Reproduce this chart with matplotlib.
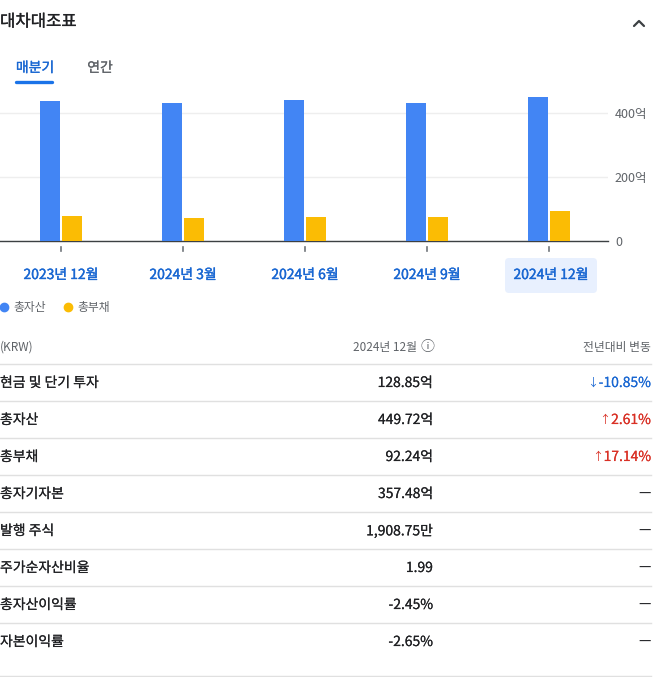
import matplotlib
matplotlib.use("Agg")
import matplotlib.pyplot as plt
from matplotlib.lines import Line2D
from matplotlib.patches import FancyBboxPatch
from matplotlib.text import Annotation
import matplotlib.patheffects as pe
import matplotlib.transforms as mtransforms

plt.rcParams['font.family'] = ['Noto Sans CJK KR', 'DejaVu Sans']

# ---- data ----
periods = ["2023년 12월", "2024년 3월", "2024년 6월", "2024년 9월", "2024년 12월"]
total_assets = [438.3, 431.5, 441.0, 431.5, 449.72]     # 억
total_liabilities = [78.75, 71.5, 75.0, 75.5, 92.24]    # 억
yticks = [0, 200, 400]
ytick_labels = ["0", "200억", "400억"]
series_names = ["총자산", "총부채"]

row_labels = ["현금 및 단기 투자", "총자산", "총부채", "총자기자본", "발행 주식",
              "주가순자산비율", "총자산이익률", "자본이익률"]
row_values = ["128.85억", "449.72억", "92.24억", "357.48억", "1,908.75만",
              "1.99", "-2.45%", "-2.65%"]
row_changes = ["↓-10.85%", "↑2.61%", "↑17.14%", "—", "—", "—", "—", "—"]

W, H = 662, 677
fig = plt.figure(figsize=(W / 100, H / 100), dpi=100)
fig.patch.set_facecolor("white")

def fx(px):
    return px / W

def fy(py):
    return 1 - py / H

def ft(px, py, s, stroke=0.0, **kw):
    kw.setdefault("va", "center")
    t = fig.text(fx(px), fy(py), s, **kw)
    if stroke > 0:
        t.set_path_effects([pe.withStroke(linewidth=stroke, foreground=kw.get("color", "black"))])
    return t

DARK = "#202124"
GRAY = "#5f6368"
BLUE = "#4285f4"
YELLOW = "#fbbc04"
LINKBLUE = "#1967d2"
RED = "#d93025"

# ---- header ----
ft(0, 22, "대차대조표", stroke=0.2, fontsize=12, color=DARK, ha="left")
fig.add_artist(Line2D([fx(634), fx(639), fx(644)], [fy(26), fy(21), fy(26)],
                      transform=fig.transFigure, color="#3c4043", lw=1.6,
                      solid_capstyle="round", solid_joinstyle="round"))
ft(35, 68, "매분기", stroke=0.25, fontsize=10, color=LINKBLUE, ha="center")
ft(100, 68, "연간", stroke=0.15, fontsize=10, color=GRAY, ha="center")
fig.add_artist(Line2D([fx(16), fx(52)], [fy(82), fy(82)], transform=fig.transFigure,
                      color="#1a73e8", lw=2.4, solid_capstyle="round"))

# ---- chart ----
ax_left, ax_right, ax_top, ax_bot = 0, 608, 90, 241
ax = fig.add_axes([fx(ax_left), fy(ax_bot), fx(ax_right - ax_left), (ax_bot - ax_top) / H])
px_per_unit = (241 - 113) / 400.0
ax.set_ylim(0, (ax_bot - ax_top) / px_per_unit)
group_w = 122.0
ax.set_xlim(-61 / group_w, (608 - 61) / group_w)

x = list(range(len(periods)))
bw = 20 / group_w
off = 11 / group_w
ax.bar([i - off for i in x], total_assets, width=bw, color=BLUE, zorder=3)
ax.bar([i + off for i in x], total_liabilities, width=bw, color=YELLOW, zorder=3)

for s in ["top", "left", "right"]:
    ax.spines[s].set_visible(False)
ax.spines["bottom"].set_color("#3c4043")
ax.spines["bottom"].set_linewidth(1.0)
ax.yaxis.tick_right()
ax.set_yticks(yticks)
ax.set_yticklabels(ytick_labels, fontsize=9, color=GRAY)
ax.tick_params(axis="y", length=0, pad=5)
for lab in ax.get_yticklabels():
    lab.set_ha("left")
ax.grid(axis="y", color="#eeeeee", lw=1, zorder=0)
ax.set_xticks([])
ax.set_facecolor("none")

# small tick marks under the baseline
trans = mtransforms.blended_transform_factory(ax.transData, ax.transAxes)
for i in x:
    ax.plot([i, i], [-(247 - 241) / 151, -(251 - 241) / 151], transform=trans,
            color="#70757a", lw=1.2, clip_on=False)

# category labels
for i, p in enumerate(periods):
    cx = 61 + group_w * i
    if i == len(periods) - 1:
        box = FancyBboxPatch((fx(505), fy(293)), fx(92), (293 - 258) / H,
                             boxstyle="round,pad=0,rounding_size=0.006",
                             transform=fig.transFigure, facecolor="#e8f0fe",
                             edgecolor="none")
        fig.add_artist(box)
        cx = 551
    ft(cx, 275, p, stroke=0.28, fontsize=10, color=LINKBLUE, ha="center")

# legend
fig.add_artist(Line2D([fx(4)], [fy(307)], marker="o", markersize=6, color=BLUE,
                      transform=fig.transFigure, lw=0))
ft(13, 307, series_names[0], fontsize=8.5, color=GRAY, ha="left")
fig.add_artist(Line2D([fx(68)], [fy(307)], marker="o", markersize=6, color=YELLOW,
                      transform=fig.transFigure, lw=0))
ft(77, 307, series_names[1], fontsize=8.5, color=GRAY, ha="left")

# ---- table ----
ft(0, 347, "(KRW)", fontsize=8.5, color=GRAY, ha="left")
ft(417, 347, "2024년 12월", fontsize=8.5, color=GRAY, ha="right")
ft(427, 347, "ⓘ", fontsize=10, color=GRAY, ha="center")
ft(651, 347, "전년대비 변동", fontsize=8.5, color=GRAY, ha="right")

line_ys = [364, 401, 438, 475, 512, 549, 586, 623]
for ly in line_ys:
    fig.add_artist(Line2D([0, fx(651)], [fy(ly), fy(ly)], transform=fig.transFigure,
                          color="#e0e0e0", lw=1))
fig.add_artist(Line2D([0, fx(651)], [fy(676), fy(676)], transform=fig.transFigure,
                      color="#e0e0e0", lw=1))

for k, (lab, val, chg) in enumerate(zip(row_labels, row_values, row_changes)):
    yy = 383 + 37 * k
    ft(0, yy, lab, stroke=0.12, fontsize=10, color=DARK, ha="left")
    ft(433, yy, val, stroke=0.12, fontsize=10, color=DARK, ha="right")
    if chg[0] in "↓↑":
        c = LINKBLUE if chg[0] == "↓" else RED
        t = ft(651, yy, chg[1:], stroke=0.1, fontsize=10, color=c, ha="right")
        arrow = Annotation(chg[0], xy=(0, 0.5), xycoords=t, xytext=(-0.5, 0),
                           textcoords="offset points", ha="right", va="center",
                           fontsize=8, color=c)
        fig.add_artist(arrow)
    else:
        ft(651, yy, chg, fontsize=10, color=DARK, ha="right")

fig.savefig("out.png", dpi=100, facecolor="white")
